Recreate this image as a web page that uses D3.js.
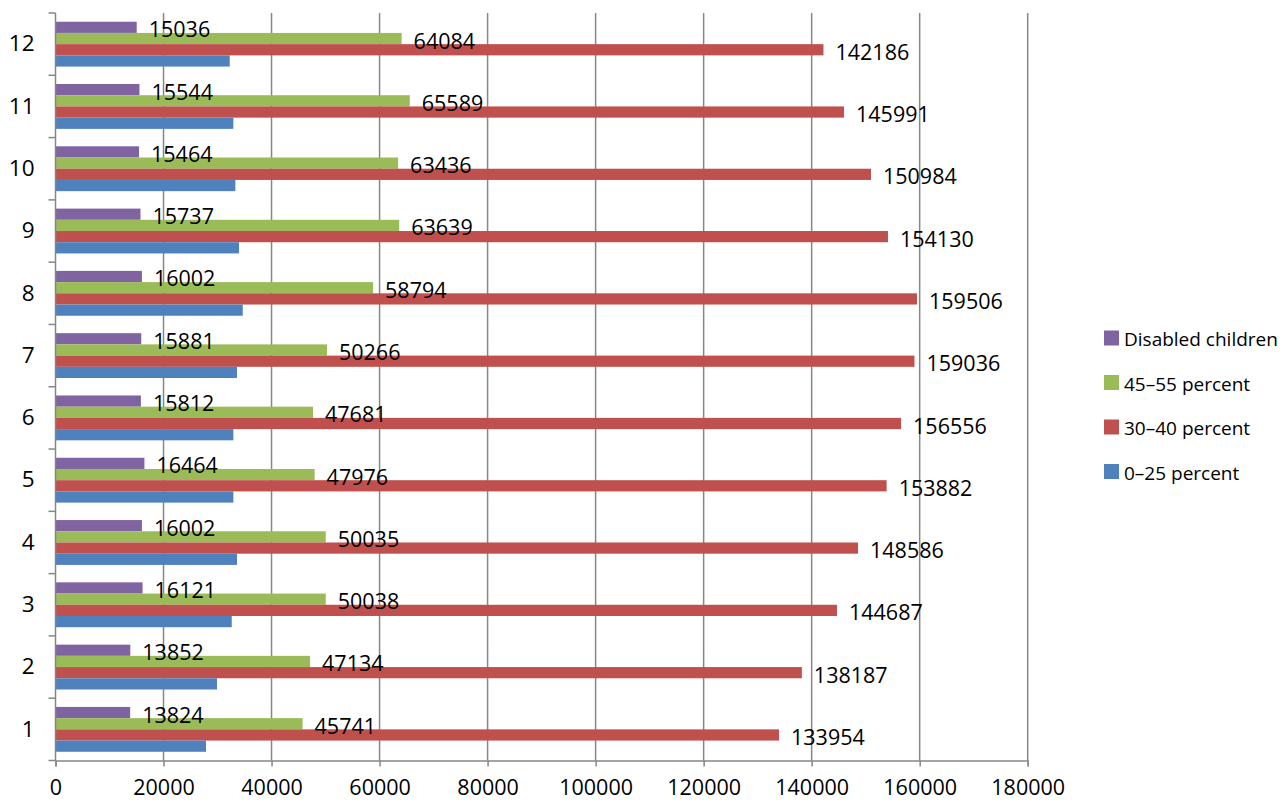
<!DOCTYPE html>
<html>
<head>
<meta charset="utf-8">
<script src="https://cdn.jsdelivr.net/npm/d3@7"></script>
<style>
  body { margin: 0; background: #fff; }
  svg { display: block; font-family: "Open Sans", sans-serif; }
</style>
</head>
<body>
<svg id="chart" width="1288" height="803"></svg>
<script>
const categories = ["1","2","3","4","5","6","7","8","9","10","11","12"];
const seriesNames = ["Disabled children", "45–55 percent", "30–40 percent", "0–25 percent"];
const disabled = [13824, 13852, 16121, 16002, 16464, 15812, 15881, 16002, 15737, 15464, 15544, 15036];
const pct45_55 = [45741, 47134, 50038, 50035, 47976, 47681, 50266, 58794, 63639, 63436, 65589, 64084];
const pct30_40 = [133954, 138187, 144687, 148586, 153882, 156556, 159036, 159506, 154130, 150984, 145991, 142186];
const pct0_25 = [27870, 29900, 32630, 33610, 32930, 32930, 33610, 34670, 33980, 33300, 32930, 32260];
const xTicks = [0, 20000, 40000, 60000, 80000, 100000, 120000, 140000, 160000, 180000];
const colors = ["#8064A2", "#9BBB59", "#C0504D", "#4F81BD"];
const seriesValues = [disabled, pct45_55, pct30_40, pct0_25];
const labeled = [true, true, true, false];

const svg = d3.select("#chart");
const pLeft = 55.5, pRight = 1027.7, pTop = 13, pBottom = 760.5;

const x = d3.scaleLinear().domain([0, 180000]).range([pLeft, pRight]);
const y = d3.scaleBand().domain(categories.slice().reverse()).range([pTop, pBottom])
  .paddingInner(0.28).paddingOuter(0.14);
const ys = d3.scaleBand().domain(seriesNames).range([0, y.bandwidth()]);

const gridColor = "#878787";

// vertical gridlines
svg.append("g").selectAll("line").data(xTicks.slice(1)).join("line")
  .attr("x1", d => x(d)).attr("x2", d => x(d))
  .attr("y1", pTop).attr("y2", pBottom)
  .attr("stroke", gridColor).attr("stroke-width", 1.5);

// bars
seriesNames.forEach((name, si) => {
  const g = svg.append("g");
  g.selectAll("rect").data(categories).join("rect")
    .attr("x", x(0))
    .attr("y", (c) => y(c) + ys(name))
    .attr("width", (c, i) => x(seriesValues[si][i]) - x(0))
    .attr("height", ys.bandwidth())
    .attr("fill", colors[si]);
});

// labels
seriesNames.forEach((name, si) => {
  if (!labeled[si]) return;
  svg.append("g").selectAll("text").data(categories).join("text")
    .attr("x", (c, i) => x(seriesValues[si][i]) + 12)
    .attr("y", (c) => y(c) + ys(name) + ys.bandwidth() / 2 + 1.5)
    .attr("dominant-baseline", "central")
    .attr("font-size", 21.5)
    .attr("fill", "#000")
    .text((c, i) => seriesValues[si][i]);
});

// x axis
const xAxis = svg.append("g").attr("transform", `translate(0,${pBottom})`)
  .call(d3.axisBottom(x).tickValues(xTicks).tickFormat(d => d).tickSize(6).tickPadding(13));
xAxis.select(".domain").attr("stroke", gridColor).attr("stroke-width", 1.5);
xAxis.selectAll(".tick line").attr("stroke", gridColor).attr("stroke-width", 1.5);
xAxis.selectAll("text").attr("font-size", 21.5).attr("fill", "#000").attr("font-family", "Open Sans");

// y axis
const yAxis = svg.append("g").attr("transform", `translate(${pLeft},0)`)
  .call(d3.axisLeft(y).tickSize(0).tickPadding(21));
yAxis.select(".domain").remove();
svg.append("line").attr("x1", pLeft).attr("x2", pLeft).attr("y1", pTop).attr("y2", pBottom)
  .attr("stroke", gridColor).attr("stroke-width", 1.5);
const bounds = y.domain().map(c => y(c) - y.step() * y.paddingInner() / 2 );
bounds.push(pBottom);
svg.append("g").selectAll("line").data(bounds).join("line")
  .attr("x1", pLeft - 7).attr("x2", pLeft)
  .attr("y1", d => d).attr("y2", d => d)
  .attr("stroke", gridColor).attr("stroke-width", 1.5);
yAxis.selectAll("text").attr("font-size", 22.5).attr("fill", "#000").attr("font-family", "Open Sans");

// legend
const legend = svg.append("g");
seriesNames.forEach((name, i) => {
  const cy = 338 + i * 44.5;
  legend.append("rect").attr("x", 1104).attr("y", cy - 7.5).attr("width", 15).attr("height", 15)
    .attr("fill", colors[i]);
  legend.append("text").attr("x", 1124).attr("y", cy + 1).attr("dominant-baseline", "central")
    .attr("font-size", 19).attr("fill", "#000").text(name);
});
</script>
</body>
</html>
